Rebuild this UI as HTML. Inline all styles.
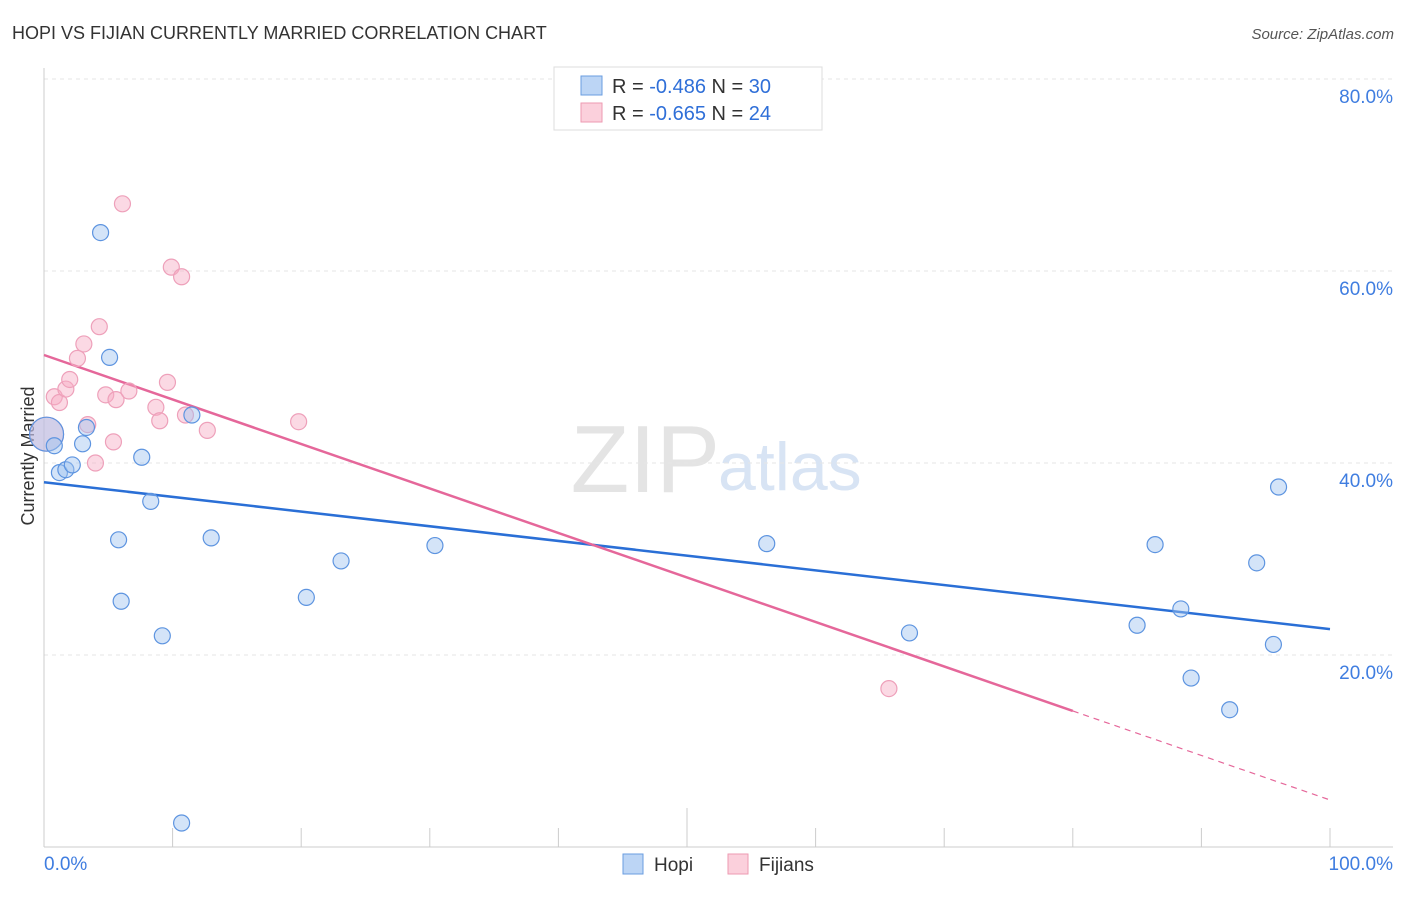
<!DOCTYPE html>
<html><head><meta charset="utf-8"><style>
body{margin:0;background:#fff;font-family:"Liberation Sans",sans-serif}
svg text{font-family:"Liberation Sans",sans-serif}
</style></head><body>
<svg id="c" width="1406" height="892">
<text x="12" y="39" font-size="18" fill="#333">HOPI VS FIJIAN CURRENTLY MARRIED CORRELATION CHART</text>
<text x="1394" y="39" font-size="15" fill="#555" text-anchor="end" font-style="italic">Source: ZipAtlas.com</text>
<text x="720" y="492" font-size="96" fill="#e4e4e4" font-family="Liberation Serif" text-anchor="end">ZIP</text>
<text x="718" y="490" font-size="68" fill="#d8e4f4">atlas</text>
<text transform="translate(34,456) rotate(-90)" font-size="18" fill="#333" text-anchor="middle">Currently Married</text>
<g id="grid"></g><g id="lines"></g><g id="pts"></g>
<g>
<rect x="554" y="67" width="268" height="63" fill="#fff" stroke="#ddd"/>
<rect x="581" y="76" width="21" height="19" fill="#bcd5f5" stroke="#6a9de0"/>
<rect x="581" y="103" width="21" height="19" fill="#fbd0dc" stroke="#ee9ab2"/>
<text x="612" y="93" font-size="20" fill="#333">R = <tspan fill="#2f6fd8">-0.486</tspan>   N = <tspan fill="#2f6fd8">30</tspan></text>
<text x="612" y="120" font-size="20" fill="#333">R = <tspan fill="#2f6fd8">-0.665</tspan>   N = <tspan fill="#2f6fd8">24</tspan></text>
</g>
<g>
<rect x="623" y="854" width="20" height="20" fill="#bcd5f5" stroke="#6a9de0"/>
<text x="654" y="871" font-size="19" fill="#333">Hopi</text>
<rect x="728" y="854" width="20" height="20" fill="#fbd0dc" stroke="#ee9ab2"/>
<text x="759" y="871" font-size="19" fill="#333">Fijians</text>
</g>
</svg>
<script>
const yTicks=[20,40,60,80];
const xTickLabels=["0.0%","100.0%"];
const hopiX=[0.2,0.8,1.2,1.7,2.2,3.0,3.3,4.4,5.1,5.8,6.0,7.6,8.3,9.2,10.7,11.5,13.0,20.4,23.1,30.4,56.2,67.3,85.0,86.4,88.4,89.2,92.2,94.3,95.6,96.0];
const hopiY=[43,41.8,39,39.3,39.8,42,43.7,64,51,32,25.6,40.6,36,22,2.5,45,32.2,26,29.8,31.4,31.6,22.3,23.1,31.5,24.8,17.6,14.3,29.6,21.1,37.5];
const fijX=[0.2,0.8,1.2,1.7,2.0,2.6,3.1,3.4,4.0,4.3,4.8,5.4,5.6,6.1,6.6,8.7,9.0,9.6,9.9,10.7,11.0,12.7,19.8,65.7];
const fijY=[43,46.9,46.3,47.7,48.7,50.9,52.4,44,40,54.2,47.1,42.2,46.6,67,47.5,45.8,44.4,48.4,60.4,59.4,45,43.4,44.3,16.5];
const hopiLine=[38.0,22.7];
const fijLine=[51.25,4.9];
const fijSolidEnd=80;
const ns="http://www.w3.org/2000/svg";
const X=v=>44+v*12.86, Y=v=>847-v*9.6;
function mk(p,t,a){const e=document.createElementNS(ns,t);for(const k in a)e.setAttribute(k,a[k]);p.appendChild(e);return e;}
const g=document.getElementById('grid');
yTicks.forEach(t=>{
const l=mk(g,'line',{x1:44,x2:1393,y1:Y(t),y2:Y(t),stroke:'#e6e6e6','stroke-dasharray':'4,4'});


const tx=mk(g,'text',{x:1393,y:Y(t)+24,'font-size':19,fill:'#3f7de0','text-anchor':'end'});tx.textContent=t.toFixed(1)+'%';


});
mk(g,'line',{x1:1393,x2:1393,y1:Y(80),y2:Y(80),stroke:'#ccc'});
const xa=mk(g,'line',{x1:44,x2:1393,y1:847,y2:847,stroke:'#ccc'});


const ya=mk(g,'line',{x1:44,x2:44,y1:68,y2:847,stroke:'#ccc'});


for(let i=0;i<=10;i++){const tk=mk(g,'line',{x1:X(i*10),x2:X(i*10),y1:847,y2:i==5?808:828,stroke:'#ccc'});

}
[[0,'start',44],[1,'end',1393]].forEach(([i,a,x])=>{const t=mk(g,'text',{x:x,y:870,'font-size':19,fill:'#3f7de0','text-anchor':a});t.textContent=xTickLabels[i];

});
const L=document.getElementById('lines');
const lb=mk(L,'line',{x1:X(0),y1:Y(hopiLine[0]),x2:X(100),y2:Y(hopiLine[1]),stroke:'#2a6fd6','stroke-width':2.5});


const fy=x=>fijLine[0]+(fijLine[1]-fijLine[0])*x/100;
const lp=mk(L,'line',{x1:X(0),y1:Y(fy(0)),x2:X(fijSolidEnd),y2:Y(fy(fijSolidEnd)),stroke:'#e5679a','stroke-width':2.5});


const ld=mk(L,'line',{x1:X(fijSolidEnd),y1:Y(fy(fijSolidEnd)),x2:X(100),y2:Y(fy(100)),stroke:'#e5679a','stroke-width':1.2,'stroke-dasharray':'6,5'});


const P=document.getElementById('pts');
function pts(xs,ys,f,s,name){xs.forEach((x,i)=>{const c=mk(P,'circle',{cx:X(x),cy:Y(ys[i]),r:i==0?17:8,fill:f,stroke:s,'stroke-width':1.2});

});}
pts(fijX,fijY,'rgba(246,170,195,0.45)','#eea0ba','fijians-point');
pts(hopiX,hopiY,'rgba(160,195,240,0.45)','#5d94e0','hopi-point');
</script>
</body></html>
